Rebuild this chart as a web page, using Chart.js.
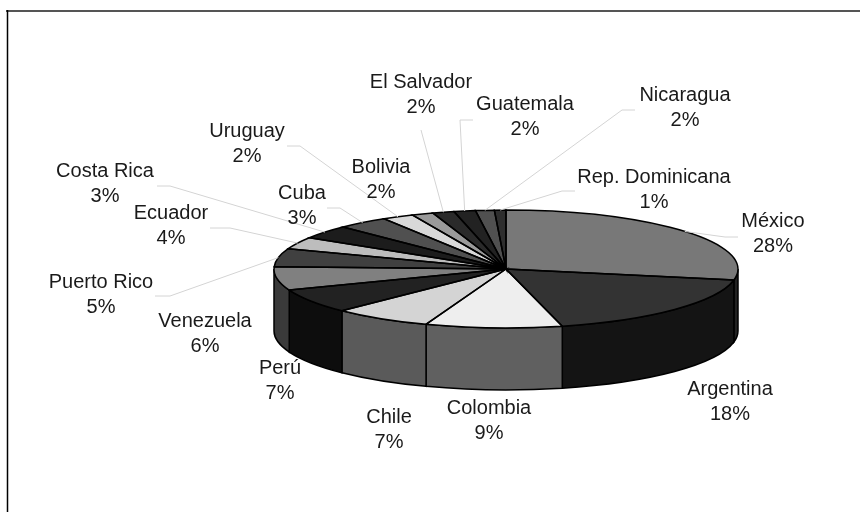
<!DOCTYPE html>
<html>
<head>
<meta charset="utf-8">
<title>Pie</title>
<script src="https://cdn.jsdelivr.net/npm/chart.js@4/dist/chart.umd.min.js"></script>
<style>
html, body { margin: 0; padding: 0; background: #fff; }
canvas { display: block; filter: blur(0.6px); }
</style>
</head>
<body>
<canvas id="pie" width="860" height="512"></canvas>
<script>
// slice sizes, printed percents are the rounded ones
const countries = ['México', 'Argentina', 'Colombia', 'Chile', 'Perú', 'Venezuela', 'Puerto Rico', 'Ecuador',
    'Costa Rica', 'Cuba', 'Uruguay', 'Bolivia', 'El Salvador', 'Guatemala', 'Nicaragua', 'Rep. Dominicana'];
const shares = [28, 18.1, 9.5, 6.9, 6.7, 6.4, 5, 3.3, 3.7, 3.6, 2.2, 1.5, 1.5, 1.5, 1.3, 0.8];
const percents = ['28%', '18%', '9%', '7%', '7%', '6%', '5%', '4%', '3%', '3%', '2%', '2%', '2%', '2%', '2%', '1%'];

const topColors = ['#787878', '#333333', '#eeeeee', '#d4d4d4', '#222222', '#808080', '#404040', '#bdbdbd',
    '#1c1c1c', '#505050', '#d8d8d8', '#9a9a9a', '#2a2a2a', '#222222', '#505050', '#2e2e2e'];
const wallColors = ['#222222', '#141414', '#606060', '#5a5a5a', '#0d0d0d', '#3a3a3a', '#222222', '#222222',
    '#222222', '#222222', '#222222', '#222222', '#222222', '#222222', '#222222', '#222222'];

// where each label sits (centre x, middle of the name line)
const labelSpots = [[773, 221], [730, 389], [489, 408], [389, 417], [280, 368], [205, 321], [101, 282], [171, 213],
    [105, 171], [302, 193], [247, 131], [381, 167], [421, 82], [525, 104], [685, 95], [654, 177]];
// leader line bends, going out from the slice edge
const leaders = [[[725, 237], [738, 237]], null, null, null, null, null, [[170, 296], [155, 296]], [[230, 228], [210, 228]],
    [[170, 186], [157, 186]], [[340, 208], [327, 208]], [[300, 146], [287, 146]], null, [[421, 130]],
    [[460, 120], [473, 120]], [[622, 110], [635, 110]], [[562, 191], [575, 191]]];

// squashed view of the flat pie
const view = { cy: 269, tilt: 0.254, depth: 62 };

const pie3d = {
    id: 'pie3d',
    beforeDatasetsDraw(chart) {
        const ctx = chart.ctx;
        const arcs = chart.getDatasetMeta(0).data;
        const ry = arcs[0].outerRadius * view.tilt;
        const cx = arcs[0].x;

        // side walls, only the front half can be seen
        arcs.forEach((arc, i) => {
            const a0 = Math.max(arc.startAngle, 0);
            const a1 = Math.min(arc.endAngle, Math.PI);
            if (a1 <= a0) return;
            ctx.beginPath();
            ctx.ellipse(cx, view.cy, arc.outerRadius, ry, 0, a0, a1);
            ctx.ellipse(cx, view.cy + view.depth, arc.outerRadius, ry, 0, a1, a0, true);
            ctx.closePath();
            ctx.fillStyle = wallColors[i];
            ctx.fill();
            ctx.lineWidth = 1.5;
            ctx.strokeStyle = '#000';
            ctx.stroke();
        });

        // the library draws the top of the pie inside this squash
        ctx.save();
        ctx.translate(0, view.cy);
        ctx.scale(1, view.tilt);
        ctx.translate(0, -arcs[0].y);
    },
    afterDatasetsDraw(chart) {
        const ctx = chart.ctx;
        ctx.restore();
        const arcs = chart.getDatasetMeta(0).data;

        // outlines after the squash so they keep an even width
        arcs.forEach(arc => {
            const rx = arc.outerRadius;
            ctx.beginPath();
            ctx.moveTo(arc.x, view.cy);
            ctx.ellipse(arc.x, view.cy, rx, rx * view.tilt, 0, arc.startAngle, arc.endAngle);
            ctx.closePath();
            ctx.lineWidth = 1.5;
            ctx.strokeStyle = '#000';
            ctx.stroke();
        });

        // leader lines
        arcs.forEach((arc, i) => {
            if (!leaders[i]) return;
            const mid = (arc.startAngle + arc.endAngle) / 2;
            const rx = arc.outerRadius;
            ctx.beginPath();
            ctx.moveTo(arc.x + Math.cos(mid) * rx, view.cy + Math.sin(mid) * rx * view.tilt);
            leaders[i].forEach(p => ctx.lineTo(p[0], p[1]));
            ctx.lineWidth = 1;
            ctx.strokeStyle = '#d4d4d4';
            ctx.stroke();
        });

        // labels
        ctx.fillStyle = '#1a1a1a';
        ctx.font = '20px "Liberation Sans", Arial, sans-serif';
        ctx.textAlign = 'center';
        ctx.textBaseline = 'middle';
        countries.forEach((name, i) => {
            const spot = labelSpots[i];
            ctx.fillText(name, spot[0], spot[1]);
            ctx.fillText(percents[i], spot[0], spot[1] + 25.5);
        });

        // frame is only a top and a left line, the scan cuts the rest off
        ctx.beginPath();
        ctx.moveTo(860, 11);
        ctx.lineTo(6, 11);
        ctx.lineWidth = 2;
        ctx.strokeStyle = '#555';
        ctx.stroke();
        ctx.beginPath();
        ctx.moveTo(7.5, 10);
        ctx.lineTo(7.5, 512);
        ctx.lineWidth = 1.5;
        ctx.strokeStyle = '#000';
        ctx.stroke();
    }
};

new Chart(document.getElementById('pie'), {
    type: 'pie',
    data: {
        labels: countries,
        datasets: [{
            data: shares,
            backgroundColor: topColors,
            borderWidth: 0
        }]
    },
    options: {
        responsive: false,
        animation: false,
        layout: { padding: { left: 274, right: 122, top: 24, bottom: 24 } },
        plugins: {
            legend: { display: false },
            tooltip: { enabled: false }
        }
    },
    plugins: [pie3d]
});
</script>
</body>
</html>
